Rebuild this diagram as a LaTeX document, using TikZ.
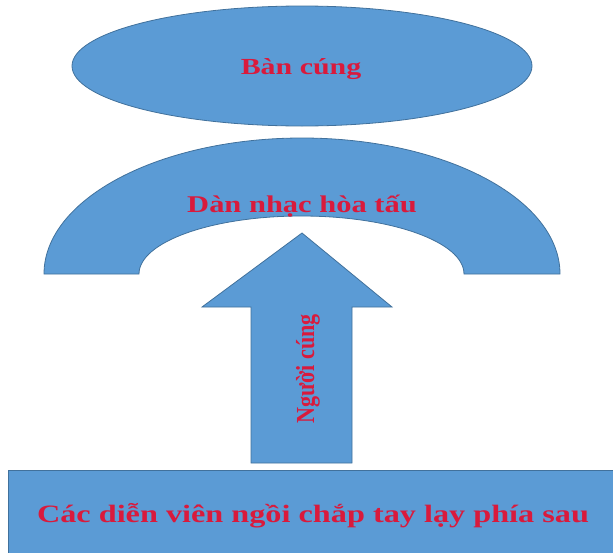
\documentclass[tikz,border=0pt]{standalone}
\usepackage{fontspec}
\setmainfont{Liberation Serif}
\usetikzlibrary{shapes.geometric}
\definecolor{fillblue}{HTML}{5B9BD5}
\definecolor{edgeblue}{HTML}{41719C}
\definecolor{txtred}{HTML}{D91A3C}
\tikzset{
  shapebox/.style={fill=fillblue, draw=edgeblue, line width=0.8pt},
  lbl/.style={text=txtred, font=\bfseries, inner sep=0pt, anchor=base},
}
\begin{document}
\begin{tikzpicture}[x=1pt,y=-1pt]
\useasboundingbox (0,0) rectangle (613,552);
% top ellipse
\node[shapebox, ellipse, minimum width=460pt, minimum height=120pt, inner sep=0pt] (altar) at (302,66) {};
\node[lbl, font=\bfseries\fontsize{23}{23}\selectfont] (altartxt) at (301,74) {\scalebox{1.3}[1]{Bàn cúng}};
% arch
\path[shapebox] (44,274) arc[start angle=180, end angle=0, x radius=258pt, y radius=136pt]
  -- (464,274) arc[start angle=0, end angle=180, x radius=162.5pt, y radius=58pt] -- cycle;
\node[lbl, font=\bfseries\fontsize{24}{24}\selectfont] (archtxt) at (302,212) {\scalebox{1.27}[1]{Dàn nhạc hòa tấu}};
% arrow
\path[shapebox] (302,233) -- (392,307) -- (352,307) -- (352,463) -- (251,463) -- (251,307) -- (202,307) -- cycle;
\node[text=txtred, font=\bfseries\fontsize{26}{26}\selectfont, inner sep=0pt, rotate=90] (arrowtxt) at (308,369) {\scalebox{0.85}[1]{Người cúng}};
% bottom box
\path[shapebox] (8,470) rectangle (625,560);
\node[lbl, font=\bfseries\fontsize{25}{25}\selectfont] (bottomtxt) at (313,522) {\scalebox{1.29}[1]{Các diễn viên ngồi chắp tay lạy phía sau}};
\end{tikzpicture}
\end{document}
